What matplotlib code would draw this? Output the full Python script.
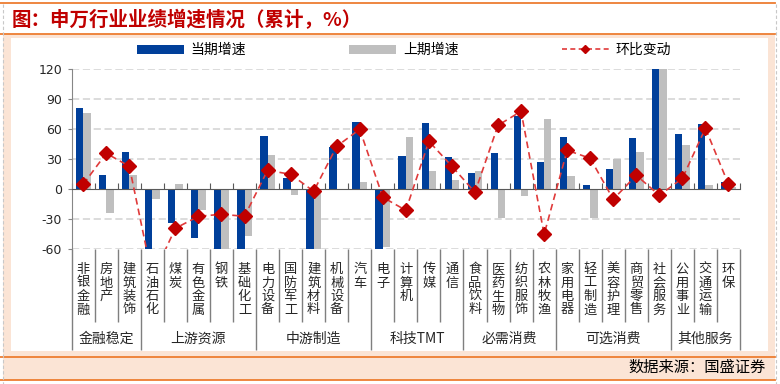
import matplotlib
matplotlib.use("Agg")
import matplotlib.pyplot as plt
from matplotlib.patches import Rectangle, Patch
from matplotlib.lines import Line2D
import matplotlib.transforms as mtransforms
import numpy as np

plt.rcParams['font.family'] = ['Noto Sans CJK SC', 'DejaVu Sans']
plt.rcParams['axes.unicode_minus'] = False

categories = ['非银金融', '房地产', '建筑装饰', '石油石化', '煤炭', '有色金属', '钢铁', '基础化工',
              '电力设备', '国防军工', '建筑材料', '机械设备', '汽车', '电子', '计算机', '传媒', '通信',
              '食品饮料', '医药生物', '纺织服饰', '农林牧渔', '家用电器', '轻工制造', '美容护理',
              '商贸零售', '社会服务', '公用事业', '交通运输', '环保']
current_growth = [81, 14, 37, -75, -34, -49, -70, -80, 53, 11, -85, 42, 67, -65, 33, 66, 32,
                  16, 36, 73, 27, 52, 4, 20, 51, 160, 55, 65, 7]
previous_growth = [76, -24, 14, -10, 5, -21, -68, -47, 34, -6, -66, -1, 7, -58, 52, 18, 9,
                   18, -29, -7, 70, 13, -29, 30, 37, 140, 44, 4, 2]
qoq_change = [5, 36, 23, -88, -39, -27, -25, -27, 19, 15, -2, 43, 60, -8, -21, 48, 23,
              -3, 64, 78, -45, 39, 31, -10, 14, -6, 11, 61, 5]
group_names = ['金融稳定', '上游资源', '中游制造', '科技TMT', '必需消费', '可选消费', '其他服务']
group_sizes = [3, 5, 5, 4, 4, 5, 3]
yticks = [-60, -30, 0, 30, 60, 90, 120]
series_names = ['当期增速', '上期增速', '环比变动']

W, H = 780, 384
fig = plt.figure(figsize=(W / 100, H / 100), dpi=100)
fig.patch.set_facecolor('white')

def fx(px):
    return px / W

def fy(py):
    return 1 - py / H

PEACH = '#fbe4d5'
ORANGE = '#ed7d31'
# background panels
fig.add_artist(Rectangle((fx(3), fy(380)), fx(775) - fx(3), fy(34) - fy(380),
                         transform=fig.transFigure, facecolor=PEACH, edgecolor='none', zorder=-10))
fig.add_artist(Rectangle((fx(11), fy(351)), fx(768) - fx(11), fy(38) - fy(351),
                         transform=fig.transFigure, facecolor='white', edgecolor='none', zorder=-9))
for py in [3.3, 34, 356.5, 380]:
    fig.add_artist(Line2D([0, fx(775)], [fy(py), fy(py)], transform=fig.transFigure,
                          color=ORANGE, lw=1.3, zorder=-5))
for px in [3, 776]:
    fig.add_artist(Line2D([fx(px), fx(px)], [fy(4), fy(384)], transform=fig.transFigure,
                          color='#c8c8c8', lw=0.8, ls=(0, (3, 2)), zorder=-5))

fig.text(fx(12), fy(20), '图：申万行业业绩增速情况（累计，%）', color='#c00000',
         fontsize=14, fontweight='bold', va='center', ha='left')
fig.text(fx(766), fy(367), '数据来源：国盛证券', color='black', fontsize=11,
         va='center', ha='right')

# axes
ax_left, ax_right = 71.7, 740
ax_top, ax_bot = 69.3, 249.3
ax = fig.add_axes([fx(ax_left), fy(ax_bot), fx(ax_right) - fx(ax_left), fy(ax_top) - fy(ax_bot)])
ax.set_facecolor('none')

n = len(categories)
x = np.arange(n)
bw = 0.32
BLUE = '#003f9a'
GRAY = '#bfbfbf'
ax.bar(x - bw / 2, current_growth, width=bw, color=BLUE, zorder=3)
ax.bar(x + bw / 2, previous_growth, width=bw, color=GRAY, zorder=3)
ax.plot(x, qoq_change, color='#e03a3a', lw=1.2, ls=(0, (4, 2.5)), marker='D',
        markersize=6.8, markerfacecolor='#c00000', markeredgecolor='#c00000', zorder=5)

ax.set_xlim(-0.5, n - 0.5)
ax.set_ylim(-60, 120)
ax.set_yticks(yticks)
ax.set_yticklabels([str(v) for v in yticks], fontfamily='DejaVu Sans', fontsize=9, color='#262626')
for v in yticks:
    if v != 0:
        ax.axhline(v, color='#d9d9d9', lw=1.3, ls=(0, (4, 2)), zorder=1)

for s in ['top', 'right']:
    ax.spines[s].set_visible(False)
ax.spines['left'].set_color('#868686')
ax.spines['bottom'].set_position(('data', 0))
ax.spines['bottom'].set_color('#595959')
ax.spines['bottom'].set_zorder(4)
ax.set_xticks(np.arange(n + 1) - 0.5)
ax.set_xticklabels([])
ax.tick_params(axis='x', direction='in', length=4, color='#595959')
ax.tick_params(axis='y', direction='out', length=3, color='#868686', pad=4)

trans = mtransforms.blended_transform_factory(ax.transData, ax.transAxes)

def ay(py):
    return (ax_bot - py) / (ax_bot - ax_top)

# category labels (vertical stacked)
for i, name in enumerate(categories):
    for k, ch in enumerate(name):
        ax.text(i, ay(269.5 + 13.5 * k), ch, transform=trans, ha='center', va='center',
                fontsize=9.5, color='#262626', clip_on=False)

# boundaries
group_bounds = np.concatenate([[0], np.cumsum(group_sizes)])
for b in range(n + 1):
    bottom = 350 if b in group_bounds else 322
    ax.plot([b - 0.5, b - 0.5], [ay(ax_bot), ay(bottom)], transform=trans, color='#7f7f7f',
            lw=1, clip_on=False, solid_capstyle='butt')
for gi, gname in enumerate(group_names):
    c = (group_bounds[gi] + group_bounds[gi + 1] - 1) / 2
    ax.text(c, ay(339), gname, transform=trans, ha='center', va='center', fontsize=10,
            color='#262626', clip_on=False)

handles = [Patch(facecolor=BLUE, edgecolor='none'),
           Patch(facecolor=GRAY, edgecolor='none'),
           Line2D([], [], color='#e03a3a', lw=1.2, ls=(0, (3, 2)), marker='D', markersize=4.5,
                  markerfacecolor='#c00000', markeredgecolor='#c00000')]
fig.legend(handles, series_names, loc='center', bbox_to_anchor=(fx(404), fy(50)), ncol=3,
           frameon=False, fontsize=10, handlelength=3.4, handleheight=0.6, handletextpad=0.5,
           columnspacing=7.4, borderaxespad=0)

fig.savefig('out.png', dpi=100)
